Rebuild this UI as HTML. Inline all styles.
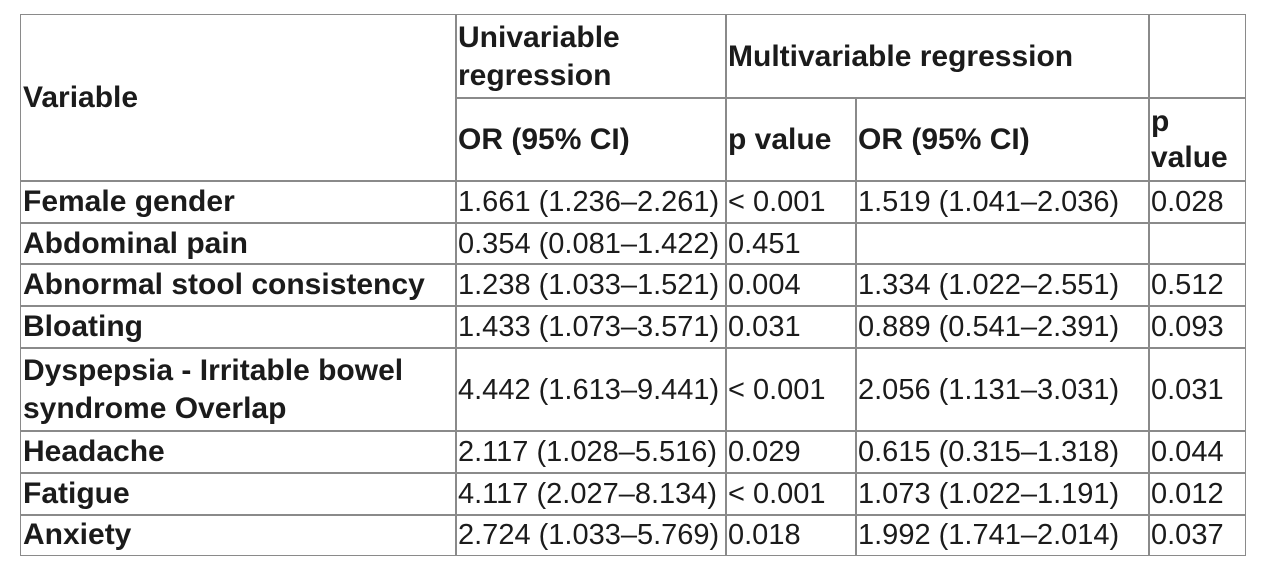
<!DOCTYPE html>
<html><head><meta charset="utf-8"><style>
html,body{margin:0;padding:0;background:#fff;width:1266px;height:568px;overflow:hidden}
#t{position:absolute;left:0;top:0;width:1266px;height:568px;font-family:"Liberation Sans",sans-serif;font-size:29px;color:#1b1b1b}
.c{position:absolute;box-sizing:border-box;border:1.5px solid #8a8a8a;display:flex;align-items:center;padding-left:2px;white-space:nowrap;line-height:38px;overflow:hidden}
.b{font-weight:bold;font-size:30px}
</style></head><body>
<div id="t">
<div class="c b" style="left:20px;top:14px;width:437px;height:168px">Variable</div>
<div class="c b" style="left:455px;top:14px;width:272px;height:85px">Univariable<br>regression</div>
<div class="c b" style="left:725px;top:14px;width:425px;height:85px">Multivariable regression</div>
<div class="c" style="left:1148px;top:14px;width:98px;height:85px"></div>
<div class="c b" style="left:455px;top:97px;width:272px;height:85px">OR (95% CI)</div>
<div class="c b" style="left:725px;top:97px;width:132px;height:85px">p value</div>
<div class="c b" style="left:855px;top:97px;width:295px;height:85px">OR (95% CI)</div>
<div class="c b" style="left:1148px;top:97px;width:98px;height:85px;line-height:36px">p<br>value</div>

<div>
<div class="c b" style="left:20px;top:180px;width:437px;height:44px">Female gender</div>
<div class="c" style="left:455px;top:180px;width:272px;height:44px">1.661 (1.236–2.261)</div>
<div class="c" style="left:725px;top:180px;width:132px;height:44px">&lt; 0.001</div>
<div class="c" style="left:855px;top:180px;width:295px;height:44px">1.519 (1.041–2.036)</div>
<div class="c" style="left:1148px;top:180px;width:98px;height:44px">0.028</div>
</div>
<div>
<div class="c b" style="left:20px;top:222px;width:437px;height:43px">Abdominal pain</div>
<div class="c" style="left:455px;top:222px;width:272px;height:43px">0.354 (0.081–1.422)</div>
<div class="c" style="left:725px;top:222px;width:132px;height:43px">0.451</div>
<div class="c" style="left:855px;top:222px;width:295px;height:43px"></div>
<div class="c" style="left:1148px;top:222px;width:98px;height:43px"></div>
</div>
<div>
<div class="c b" style="left:20px;top:263px;width:437px;height:44px">Abnormal stool consistency</div>
<div class="c" style="left:455px;top:263px;width:272px;height:44px">1.238 (1.033–1.521)</div>
<div class="c" style="left:725px;top:263px;width:132px;height:44px">0.004</div>
<div class="c" style="left:855px;top:263px;width:295px;height:44px">1.334 (1.022–2.551)</div>
<div class="c" style="left:1148px;top:263px;width:98px;height:44px">0.512</div>
</div>
<div>
<div class="c b" style="left:20px;top:305px;width:437px;height:44px">Bloating</div>
<div class="c" style="left:455px;top:305px;width:272px;height:44px">1.433 (1.073–3.571)</div>
<div class="c" style="left:725px;top:305px;width:132px;height:44px">0.031</div>
<div class="c" style="left:855px;top:305px;width:295px;height:44px">0.889 (0.541–2.391)</div>
<div class="c" style="left:1148px;top:305px;width:98px;height:44px">0.093</div>
</div>
<div>
<div class="c b" style="left:20px;top:347px;width:437px;height:85px">Dyspepsia - Irritable bowel<br>syndrome Overlap</div>
<div class="c" style="left:455px;top:347px;width:272px;height:85px">4.442 (1.613–9.441)</div>
<div class="c" style="left:725px;top:347px;width:132px;height:85px">&lt; 0.001</div>
<div class="c" style="left:855px;top:347px;width:295px;height:85px">2.056 (1.131–3.031)</div>
<div class="c" style="left:1148px;top:347px;width:98px;height:85px">0.031</div>
</div>
<div>
<div class="c b" style="left:20px;top:430px;width:437px;height:44px">Headache</div>
<div class="c" style="left:455px;top:430px;width:272px;height:44px">2.117 (1.028–5.516)</div>
<div class="c" style="left:725px;top:430px;width:132px;height:44px">0.029</div>
<div class="c" style="left:855px;top:430px;width:295px;height:44px">0.615 (0.315–1.318)</div>
<div class="c" style="left:1148px;top:430px;width:98px;height:44px">0.044</div>
</div>
<div>
<div class="c b" style="left:20px;top:472px;width:437px;height:44px">Fatigue</div>
<div class="c" style="left:455px;top:472px;width:272px;height:44px">4.117 (2.027–8.134)</div>
<div class="c" style="left:725px;top:472px;width:132px;height:44px">&lt; 0.001</div>
<div class="c" style="left:855px;top:472px;width:295px;height:44px">1.073 (1.022–1.191)</div>
<div class="c" style="left:1148px;top:472px;width:98px;height:44px">0.012</div>
</div>
<div>
<div class="c b" style="left:20px;top:514px;width:437px;height:42px">Anxiety</div>
<div class="c" style="left:455px;top:514px;width:272px;height:42px">2.724 (1.033–5.769)</div>
<div class="c" style="left:725px;top:514px;width:132px;height:42px">0.018</div>
<div class="c" style="left:855px;top:514px;width:295px;height:42px">1.992 (1.741–2.014)</div>
<div class="c" style="left:1148px;top:514px;width:98px;height:42px">0.037</div>
</div>
</div>
</body></html>
